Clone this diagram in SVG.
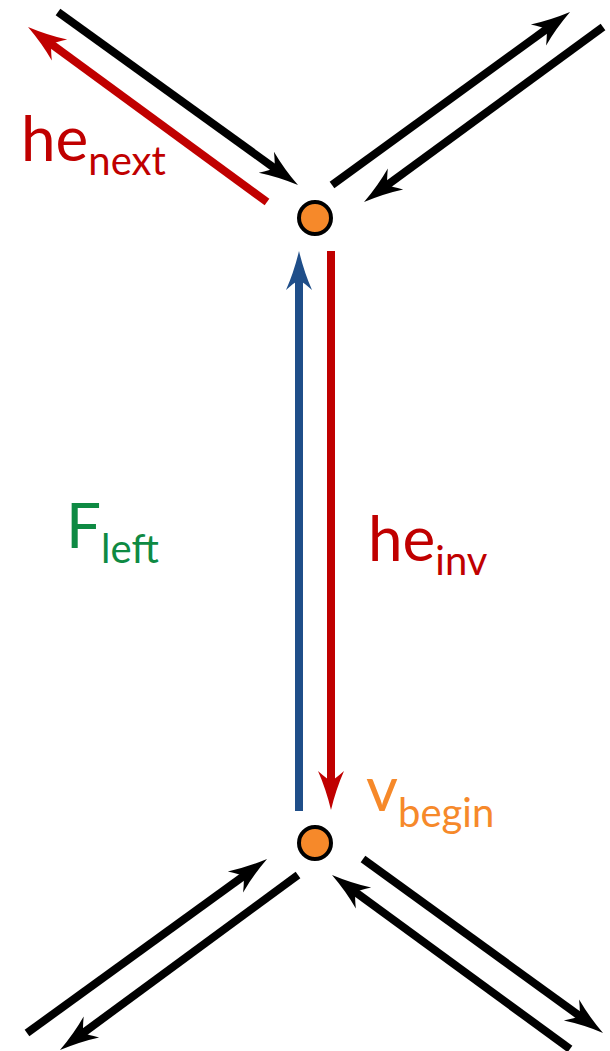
<svg xmlns="http://www.w3.org/2000/svg" width="610" height="1051" viewBox="0 0 610 1051">
<style>
.e{fill:none;stroke-width:8;stroke-linecap:butt}
.k{stroke:#000}
.r{stroke:#c00000}
.b{stroke:#1f4e89}
.v{fill:#f6892a;stroke:#000;stroke-width:4}
.t{font-family:Lato,"Open Sans",sans-serif}
.m{font-size:62px}
.s{font-size:40px}
</style>
<defs>
<marker id="ak" markerUnits="userSpaceOnUse" viewBox="-15 -15 45 30" markerWidth="45" markerHeight="30" refX="0" refY="0" orient="auto" overflow="visible"><path d="M25,0 Q4,-5 -14,-13 Q-6,-4 -4,0 Q-6,4 -14,13 Q4,5 25,0 Z" fill="#000"/></marker>
<marker id="ar" markerUnits="userSpaceOnUse" viewBox="-15 -15 45 30" markerWidth="45" markerHeight="30" refX="0" refY="0" orient="auto" overflow="visible"><path d="M25,0 Q4,-5 -14,-13 Q-6,-4 -4,0 Q-6,4 -14,13 Q4,5 25,0 Z" fill="#c00000"/></marker>
<marker id="ab" markerUnits="userSpaceOnUse" viewBox="-15 -15 45 30" markerWidth="45" markerHeight="30" refX="0" refY="0" orient="auto" overflow="visible"><path d="M25,0 Q4,-5 -14,-13 Q-6,-4 -4,0 Q-6,4 -14,13 Q4,5 25,0 Z" fill="#1f4e89"/></marker>
</defs>
<g id="connectors">
<path class="e k" d="M58,12 L277.7,170.4" marker-end="url(#ak)"/>
<path class="e r" d="M267,202 L48.2,41.8" marker-end="url(#ar)"/>
<path class="e k" d="M332,185 L549.8,26.7" marker-end="url(#ak)"/>
<path class="e k" d="M603,27 L384.2,187.2" marker-end="url(#ak)"/>
<path class="e b" d="M299,811 L299,276" marker-end="url(#ab)"/>
<path class="e r" d="M331,251 L331,785" marker-end="url(#ar)"/>
<path class="e k" d="M27,1033 L246.8,873.7" marker-end="url(#ak)"/>
<path class="e k" d="M298,875 L80.1,1035.2" marker-end="url(#ak)"/>
<path class="e k" d="M363,859 L582.8,1018.3" marker-end="url(#ak)"/>
<path class="e k" d="M570,1049 L352.2,889.8" marker-end="url(#ak)"/>
</g>
<g id="v-top"><circle class="v" cx="315" cy="218" r="16"/></g>
<g id="v-begin"><circle class="v" cx="315" cy="843" r="16"/>
<text class="t" x="366" y="811" fill="#f6892a"><tspan class="m">v</tspan><tspan class="s" dy="16">begin</tspan></text></g>
<g id="label-next"><text class="t" x="21" y="161" fill="#c00000"><tspan class="m">he</tspan><tspan class="s" dy="14">next</tspan></text></g>
<g id="label-left"><text class="t" x="66" y="548" fill="#0e8a43"><tspan class="m">F</tspan><tspan class="s" dy="15">left</tspan></text></g>
<g id="label-inv"><text class="t" x="368" y="561" fill="#c00000"><tspan class="m">he</tspan><tspan class="s" dy="14">inv</tspan></text></g>
</svg>
